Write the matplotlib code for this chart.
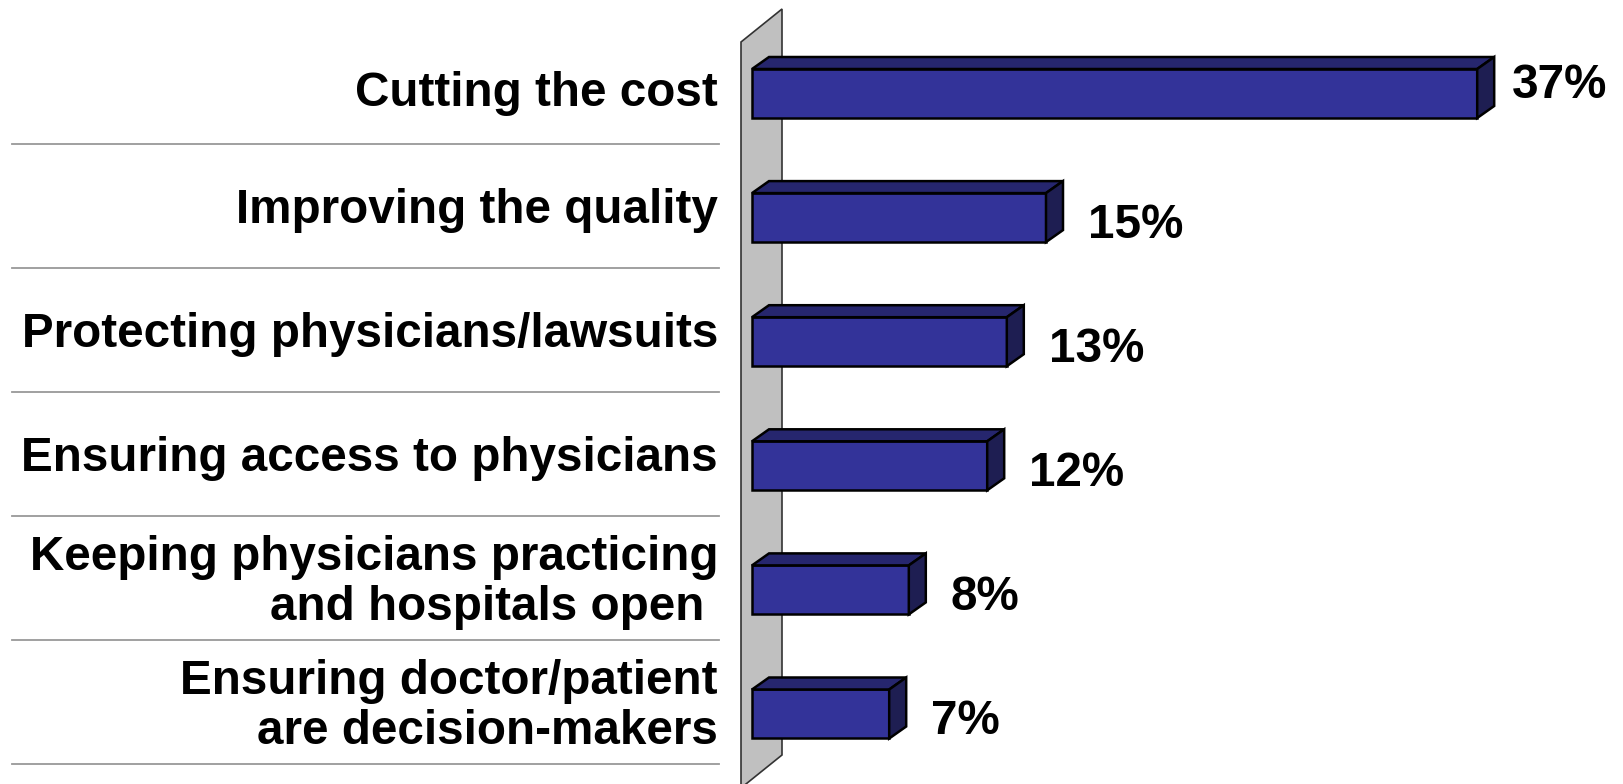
import matplotlib as mpl
mpl.use('Agg')
import matplotlib.pyplot as plt
from matplotlib.patches import Polygon, Rectangle

plt.rcParams['font.family'] = ['Liberation Sans', 'DejaVu Sans']

categories = ["Cutting the cost",
              "Improving the quality",
              "Protecting physicians/lawsuits",
              "Ensuring access to physicians",
              "Keeping physicians practicing\nand hospitals open ",
              "Ensuring doctor/patient\nare decision-makers"]
values = [37, 15, 13, 12, 8, 7]
value_labels = ["37%", "15%", "13%", "12%", "8%", "7%"]

# layout in pixels (figure is 1623 x 784 at dpi 100)
W, H = 1623, 784
px_x = 19.6      # pixels per percent
px_y = 124.1     # pixels per category
x0_px = 752      # where 0% sits
y0_px = 93.5     # centre of first bar
bar_h = 49 / px_y
dx = 17 / px_x   # 3d depth
dy = 12 / px_y

front_c = '#333399'
top_c = '#26266E'
side_c = '#1E1E52'

fig = plt.figure(figsize=(W / 100, H / 100), dpi=100)
ax = fig.add_axes([0, 0, 1, 1])
ax.set_xlim(-x0_px / px_x, (W - x0_px) / px_x)
ax.set_ylim((H - y0_px) / px_y, -y0_px / px_y)
ax.axis('off')

def px2x(p):
    return (p - x0_px) / px_x

def px2y(p):
    return (p - y0_px) / px_y

# grey wall behind the bars
wall = Polygon([(px2x(741), px2y(42)), (px2x(782), px2y(9)),
                (px2x(782), px2y(755)), (px2x(741), px2y(788))],
               closed=True, facecolor='#C0C0C0', edgecolor='#333333', lw=1.2, zorder=1)
ax.add_patch(wall)

fs = 34.3
for i, (cat, v, lab) in enumerate(zip(categories, values, value_labels)):
    top = i - bar_h / 2
    bot = i + bar_h / 2
    ax.add_patch(Rectangle((0, top), v, bar_h, facecolor=front_c,
                           edgecolor='black', lw=1.8, zorder=3))
    ax.add_patch(Polygon([(0, top), (v, top), (v + dx, top - dy), (dx, top - dy)],
                         closed=True, facecolor=top_c, edgecolor='black', lw=1.8, zorder=3))
    ax.add_patch(Polygon([(v, top), (v + dx, top - dy), (v + dx, bot - dy), (v, bot)],
                         closed=True, facecolor=side_c, edgecolor='black', lw=1.8, zorder=3))

    # value label
    nudge = -13 if i == 0 else 3
    gap = 18 if i == 0 else 25
    ax.text(v + dx + gap / px_x, i + nudge / px_y, lab, ha='left', va='center_baseline',
            fontsize=fs, fontweight='bold', color='black', zorder=4)

    # category label, one text per line
    lines = cat.split("\n")
    centre = i - (5 if i == 0 else 12) / px_y
    pitch = 50 / px_y
    first_base = centre - (len(lines) - 1) * pitch / 2 + 17 / px_y
    for k, line in enumerate(lines):
        ax.text(px2x(718), first_base + k * pitch, line, ha='right', va='baseline',
                fontsize=fs, fontweight='bold', color='black', zorder=4)

    # separator under each category
    ax.plot([px2x(12), px2x(719)], [i + 50 / px_y] * 2, color='#999999', lw=1.3, zorder=2)

fig.savefig('out.png', dpi=100)
